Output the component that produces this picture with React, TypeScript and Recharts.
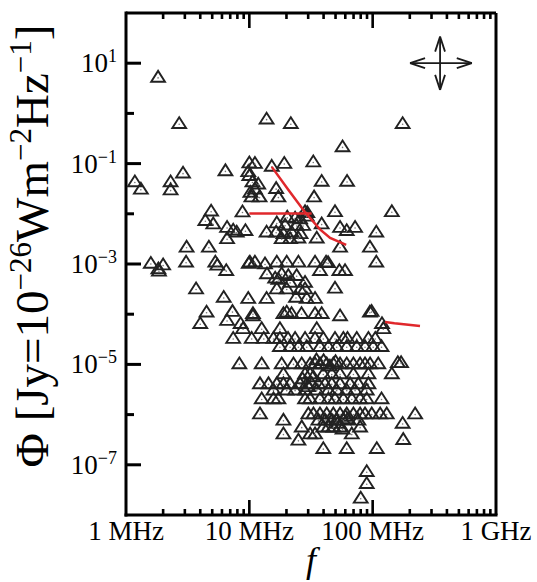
import React from 'react';
import { ScatterChart, Scatter, XAxis, YAxis, ReferenceLine, Customized } from 'recharts';

// ---- axis ticks ----
const xTicks = [1, 2, 3, 4, 5, 6, 7, 8, 9, 10, 20, 30, 40, 50, 60, 70, 80, 90, 100, 200, 300, 400, 500, 600, 700, 800, 900, 1000];
const xMinorTicks = [2, 3, 4, 5, 6, 7, 8, 9, 20, 30, 40, 50, 60, 70, 80, 90, 200, 300, 400, 500, 600, 700, 800, 900];
const xMajorInner = [10, 100];
const xTickLabels: Record<number, string> = { 1: '1 MHz', 10: '10 MHz', 100: '100 MHz', 1000: '1 GHz' };
const yTicks = [1e2, 1e1, 1e0, 1e-1, 1e-2, 1e-3, 1e-4, 1e-5, 1e-6, 1e-7, 1e-8];
const yMajorInner = [1e1, 1e-1, 1e-3, 1e-5, 1e-7];
const yMinorInner = [1e0, 1e-2, 1e-4, 1e-6];
const yLabeledExps = [1, -1, -3, -5, -7];

// ---- data: [frequency (MHz), flux density (Jy)] ----
const outlierPoints: [number, number][] = [
  [1.82, 5.1], [2.7, 0.61], [13.8, 0.75], [21.7, 0.61], [175, 0.61], [57, 0.21],
];

const upperPoints: [number, number][] = [
  [1.18, 0.042], [1.32, 0.030], [2.3, 0.042], [2.3, 0.029], [2.9, 0.063], [6.4, 0.07],
  [10, 0.10], [11.1, 0.098], [15.2, 0.086], [19.2, 0.098], [33, 0.105],
  [9.8, 0.067], [10, 0.056], [10.6, 0.042], [11.8, 0.038], [11.1, 0.030], [10.2, 0.026], [10.4, 0.021], [12.1, 0.021],
  [16.5, 0.031], [17.2, 0.021], [33.5, 0.021], [38.6, 0.043], [62, 0.043],
  [4.9, 0.011], [8.8, 0.0106], [28.3, 0.0107], [29.5, 0.0102], [49.5, 0.0107], [143, 0.0107],
  [4.4, 0.0071], [5.1, 0.0061], [6.6, 0.0052], [7.4, 0.0046], [7.9, 0.0042], [6.6, 0.0031], [9.3, 0.0045],
  [20.3, 0.0083], [23.5, 0.0080], [25.8, 0.0077], [29.2, 0.0087],
  [16.7, 0.0064], [19.5, 0.0058], [24.2, 0.0057], [27.3, 0.0057], [38.6, 0.0061], [54.4, 0.0052], [61.6, 0.0045], [72, 0.0052], [107, 0.0042],
  [13.8, 0.0042], [16.5, 0.0042], [18.9, 0.0039], [22, 0.0042], [26, 0.0039], [18.3, 0.0031], [21.4, 0.0031], [25, 0.0032], [35.2, 0.0032],
  [3.1, 0.0021], [4.7, 0.0021], [54.4, 0.0021], [95, 0.0021],
];

const midPoints: [number, number][] = [
  [1.59, 0.001], [1.83, 0.00078], [1.85, 0.0007], [2.0, 0.00093], [3.07, 0.00106], [5.3, 0.00106], [5.5, 0.00092], [6.5, 0.00072], [9.9, 0.001],
  [10.1, 0.00106], [11.1, 0.00106], [13.4, 0.00098], [16.7, 0.00106], [20.1, 0.00106], [25, 0.00106], [34.1, 0.00106], [41.9, 0.00106], [43.5, 0.00103], [107, 0.00106],
  [13.9, 0.00062], [37.4, 0.00072], [53.7, 0.00072], [59.7, 0.00072], [18.3, 0.00062], [16.2, 0.00051], [21.4, 0.00042], [24.2, 0.00057],
  [28.3, 0.00042], [17.2, 0.00048], [20.7, 0.00057],
  [3.7, 0.00031], [16.7, 0.00031], [20.1, 0.00031], [25.8, 0.0003], [49.5, 0.00032], [28.3, 0.00031],
  [6.2, 0.00021], [9.8, 0.0002], [13.8, 0.0002], [23.9, 0.00021], [29.2, 0.0002], [34.1, 0.0002],
  [4.5, 0.000107], [7.3, 0.00011], [10.7, 0.0001], [18.9, 0.0001], [20.1, 0.000107], [22, 0.0001], [26.5, 0.0001], [34.1, 0.0001],
  [38.6, 0.0001], [54.4, 0.00009], [95, 0.000107], [98, 0.00011],
  [6.6, 7.3e-5], [4.0, 6.3e-5], [8.5, 6.3e-5], [10.7, 9e-5], [119, 6.3e-5], [122, 5e-5],
  [8.9, 5e-5], [12.6, 5e-5], [17.7, 5e-5], [35.2, 5e-5],
  [7.4, 3.2e-5], [10.45, 3.2e-5], [13.1, 3.2e-5], [15.7, 3.2e-5], [17.7, 3.2e-5], [20.6, 3.2e-5], [23.5, 3.2e-5], [28.3, 3.2e-5],
  [34.1, 3.2e-5], [39.8, 3.2e-5], [49.5, 3.2e-5], [57.9, 3.2e-5], [62.5, 3.2e-5], [74.3, 3.2e-5], [92.4, 3.2e-5], [105, 3.2e-5],
  [17.7, 2.2e-5], [21.4, 2.2e-5], [25, 2.2e-5], [29.2, 2.2e-5], [37.4, 2.2e-5], [43.8, 2.2e-5], [51.1, 2.2e-5], [61.6, 2.2e-5],
  [74.3, 2.2e-5], [86.7, 2.2e-5], [101, 2.2e-5], [118, 2.2e-5],
];

const lowPoints: [number, number][] = [
  [8.3, 1e-5], [12.6, 1e-5], [18.3, 1e-5], [22.8, 1e-5], [26.6, 1e-5], [31.1, 1e-5], [34.1, 1e-5], [37.4, 1e-5], [42.4, 1e-5],
  [48.0, 1e-5], [54.4, 1e-5], [61.6, 1e-5], [69.8, 1e-5], [79.1, 1e-5], [86.7, 1e-5], [95.3, 1e-5], [111, 1e-5], [160, 1.05e-5], [170, 1.05e-5],
  [35, 1.2e-5], [40, 1.15e-5], [45, 9e-6], [50, 1.1e-5],
  [18.9, 6.3e-6], [28.3, 6.3e-6], [31.1, 6.3e-6], [39.8, 6.3e-6], [46.6, 6.3e-6], [54.4, 6.3e-6], [69.8, 6.3e-6], [92.4, 6.3e-6], [143, 6.3e-6],
  [27, 5e-6], [33, 5.5e-6],
  [12.2, 4e-6], [14.3, 4e-6], [16.7, 4e-6], [18.9, 4e-6], [21.4, 4e-6], [25.8, 4e-6], [29.2, 4e-6], [32.1, 4e-6], [36.3, 4e-6],
  [41.1, 4e-6], [46.6, 4e-6], [54.4, 4e-6], [65.6, 4e-6], [76.6, 4e-6], [92.4, 4e-6], [30, 3.5e-6],
  [15.7, 3e-6], [20.1, 3e-6], [23.5, 3e-6], [28.3, 3e-6], [35.2, 3e-6], [43.8, 3e-6], [51.1, 3e-6], [61.6, 3e-6], [72, 3e-6], [89.5, 3e-6],
  [12.6, 2e-6], [15.7, 2e-6], [17.2, 2e-6], [28.3, 2e-6], [31.1, 2e-6], [37.4, 2e-6], [43.8, 2e-6], [49.5, 2e-6], [57.9, 2e-6],
  [67.7, 2e-6], [79.1, 2e-6], [89.5, 2e-6], [118, 2e-6],
  [12.2, 1e-6], [30.1, 1e-6], [33.1, 1e-6], [37.4, 1e-6], [42.4, 1e-6], [48, 1e-6], [54.4, 1e-6], [61.6, 1e-6], [69.8, 1e-6],
  [79.1, 1e-6], [86.7, 1e-6], [98.3, 1e-6], [115, 1e-6], [130, 1e-6], [221, 1e-6], [60, 9e-7], [63, 8e-7],
  [18.9, 7.5e-7], [36.3, 7.5e-7], [41.1, 7.5e-7], [46.6, 7.5e-7], [51.1, 7.5e-7], [57.9, 7.5e-7], [76.6, 7.5e-7], [175, 6.5e-7], [52, 6.5e-7],
  [26.6, 5.5e-7], [39.8, 5.5e-7], [43.8, 5.5e-7], [48, 5.5e-7], [54.4, 5.5e-7], [79.1, 5.5e-7], [57, 5e-7],
  [18.9, 4e-7], [31.1, 4e-7], [34.1, 4e-7], [67.7, 4e-7],
  [25, 3e-7], [177, 3.1e-7],
  [39.8, 2.05e-7], [61.6, 2.05e-7], [108, 2.05e-7],
  [89.5, 7.1e-8], [89.5, 4.1e-8], [80, 2.1e-8],
];

// red curves
const redSteep: [number, number][] = [[15.2, 0.086], [20.7, 0.030], [28.3, 0.0107], [37.4, 0.0049], [45.2, 0.0033], [61, 0.0024]];
const redFlat: [number, number][] = [[10, 0.0101], [32, 0.0101]];
const redLow: [number, number][] = [[126, 7.0e-5], [150, 6.6e-5], [242, 5.8e-5]];

// four-way arrow decoration (data coordinates)
const arrowSegments: [number, number, number, number][] = [
  [201, 10, 637, 10],
  [352, 33.8, 352, 2.94],
  [201, 10, 266, 12.6], [201, 10, 266, 7.96],
  [637, 10, 481, 12.6], [637, 10, 481, 7.96],
  [352, 33.8, 321, 17], [352, 33.8, 386, 17],
  [352, 2.94, 321, 5.85], [352, 2.94, 386, 5.85],
];

const X_DOMAIN: [number, number] = [1, 1000];
const Y_DOMAIN: [number, number] = [1e-8, 1e2];

const CHART_W = 537;
const CHART_H = 582;
const MARGIN = { top: 13, right: 41, bottom: 66, left: 125 };

const toData = (arr: [number, number][]) => arr.map(([f, phi]) => ({ f, phi }));
const scatterData = toData([...outlierPoints, ...upperPoints, ...midPoints, ...lowPoints]);

// tick-mark anchor points on the frame, placed through the chart's own scales
type TickPt = { f: number; phi: number; side: 'bottom' | 'top' | 'left'; len: number };
const tickMarkData: TickPt[] = [
  ...xMajorInner.map((v) => ({ f: v, phi: Y_DOMAIN[0], side: 'bottom' as const, len: 15 })),
  ...xMajorInner.map((v) => ({ f: v, phi: Y_DOMAIN[1], side: 'top' as const, len: 15 })),
  ...xMinorTicks.map((v) => ({ f: v, phi: Y_DOMAIN[0], side: 'bottom' as const, len: 6 })),
  ...xMinorTicks.map((v) => ({ f: v, phi: Y_DOMAIN[1], side: 'top' as const, len: 6 })),
  ...yMajorInner.map((v) => ({ f: X_DOMAIN[0], phi: v, side: 'left' as const, len: 15 })),
  ...yMinorInner.map((v) => ({ f: X_DOMAIN[0], phi: v, side: 'left' as const, len: 8 })),
];

const FONT = '"Liberation Serif", "Times New Roman", serif';

const Tri = (props: any) => {
  const { cx, cy } = props;
  if (cx == null || cy == null) return <g />;
  return (
    <g>
      <path d={`M${cx},${cy - 7}L${cx + 6.9},${cy + 3.8}L${cx - 6.9},${cy + 3.8}Z`} fill="none" stroke="#222" strokeWidth={1.9} />
      <circle cx={cx} cy={cy} r={0.8} fill="#777" />
    </g>
  );
};

const TickShape = (props: any) => {
  const { cx, cy, payload } = props;
  if (cx == null || cy == null || !payload) return <g />;
  const len = payload.len;
  if (payload.side === 'bottom') {
    return <rect x={cx - 1.3} y={cy - len} width={2.6} height={len} fill="#000" stroke="none" />;
  }
  if (payload.side === 'top') {
    return <rect x={cx - 1.3} y={cy} width={2.6} height={len} fill="#000" stroke="none" />;
  }
  return <rect x={cx} y={cy - 1.5} width={len} height={3} fill="#000" stroke="none" />;
};

const XLabel = (props: any) => {
  const { x, y, payload } = props;
  const label = xTickLabels[payload.value];
  if (!label) return <g />;
  return (
    <text x={x} y={Number(y) + 25} textAnchor="middle" fontFamily={FONT} fontSize={27} fill="#000">{label}</text>
  );
};

const YLabel = (props: any) => {
  const { x, y, payload } = props;
  const exp = Math.round(Math.log10(payload.value));
  if (!yLabeledExps.includes(exp)) return <g />;
  return (
    <text x={Number(x) - 9} y={Number(y) + 9} textAnchor="end" fontFamily={FONT} fontSize={27} fill="#000">
      10<tspan dy={-10} fontSize={18}>{exp < 0 ? '\u2212' + -exp : String(exp)}</tspan>
    </text>
  );
};

const Titles = () => (
  <g>
    <text transform="translate(48, 246) rotate(-90)" textAnchor="middle" fontFamily={FONT} fontSize={47} fill="#000">
      {'\u03A6 [Jy=10'}
      <tspan dy={-17} fontSize={31}>{'\u221226'}</tspan>
      <tspan dy={17}>Wm</tspan>
      <tspan dy={-17} fontSize={31}>{'\u22122'}</tspan>
      <tspan dy={17}>Hz</tspan>
      <tspan dy={-17} fontSize={31}>{'\u22121'}</tspan>
      <tspan dy={17}>]</tspan>
    </text>
    <text x={311} y={572} textAnchor="middle" fontFamily={FONT} fontStyle="italic" fontSize={36} fill="#000">f</text>
  </g>
);

const axisLineStyle = { stroke: '#000', strokeWidth: 3, strokeLinecap: 'square' as const };

export default function App() {
  return (
    <div style={{ position: 'absolute', left: 0, top: 0, width: CHART_W, height: CHART_H, background: '#fff' }}>
      <ScatterChart width={CHART_W} height={CHART_H} margin={MARGIN}>
        <XAxis
          dataKey="f"
          type="number"
          scale="log"
          domain={X_DOMAIN}
          allowDataOverflow
          ticks={xTicks}
          interval={0}
          height={1}
          tickSize={0}
          tickMargin={0}
          axisLine={axisLineStyle}
          tickLine={false}
          tick={<XLabel />}
        />
        <YAxis
          dataKey="phi"
          type="number"
          scale="log"
          domain={Y_DOMAIN}
          allowDataOverflow
          ticks={yTicks}
          interval={0}
          width={1}
          tickSize={0}
          tickMargin={0}
          axisLine={axisLineStyle}
          tickLine={false}
          tick={<YLabel />}
        />
        <ReferenceLine x={1000} stroke="#000" strokeWidth={3} />
        <ReferenceLine y={1e2} stroke="#000" strokeWidth={3} />
        {arrowSegments.map((s, i) => (
          <ReferenceLine
            key={'ar' + i}
            segment={[{ x: s[0], y: s[1] }, { x: s[2], y: s[3] }]}
            stroke="#1a1a1a"
            strokeWidth={1.8}
          />
        ))}
        <Scatter data={tickMarkData} shape={<TickShape />} isAnimationActive={false} />
        <Scatter data={scatterData} shape={<Tri />} isAnimationActive={false} />
        <Scatter data={toData(redFlat)} line={{ stroke: '#e0282c', strokeWidth: 2.5 }} shape={() => <g />} isAnimationActive={false} />
        <Scatter data={toData(redSteep)} line={{ stroke: '#e0282c', strokeWidth: 2.5 }} shape={() => <g />} isAnimationActive={false} />
        <Scatter data={toData(redLow)} line={{ stroke: '#e0282c', strokeWidth: 2.5 }} shape={() => <g />} isAnimationActive={false} />
        <Customized component={<Titles />} />
      </ScatterChart>
    </div>
  );
}
